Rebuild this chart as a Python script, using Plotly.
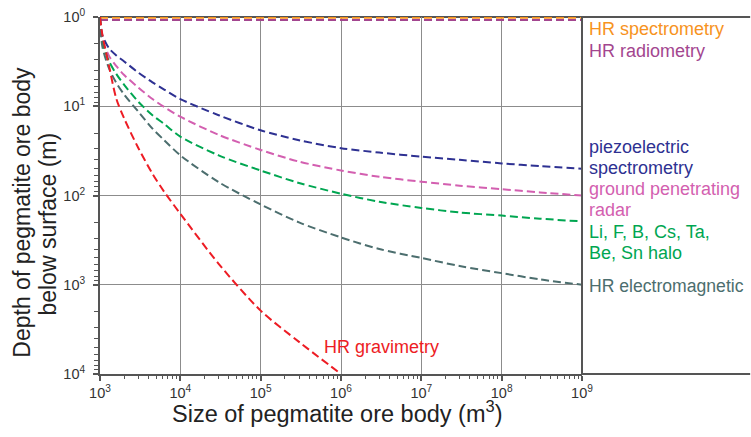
import plotly.graph_objects as go

# ---- data ----
sizes = [1000, 1070, 1300, 1600, 2000, 3000, 4500, 6300, 1e4, 3e4, 1e5, 3e5,
         1e6, 3e6, 1e7, 3e7, 1e8, 3e8, 1e9]
piezo = [1, 1.6, 2.25, 2.7, 3.15, 4.2, 5.4, 6.5, 8.3, 12.6, 18.6, 24,
         29.5, 33, 36.7, 39.8, 43.7, 46.8, 50]
gpr = [1, 1.78, 2.75, 3.55, 4.47, 6.17, 8.3, 10.2, 13.1, 20.9, 30.9, 41.7,
       52.5, 61.7, 70, 77.6, 85.1, 92.3, 100]
halo = [1, 1.9, 3.16, 4.37, 5.75, 8.9, 12.6, 15.8, 21.9, 35.5, 52.5, 72.4,
        95.5, 117.5, 138, 155, 168, 182, 195]
em = [1, 2.14, 3.8, 5.5, 7.4, 11.5, 17.8, 24, 35.5, 70.8, 126, 200,
      295, 398, 501, 617, 741, 871, 1000]

grav_sizes = [1000, 1070, 1300, 1600, 2000, 3000, 4500, 6300, 1e4, 3e4, 1e5, 3e5, 1e6]
grav = [1, 1.58, 3.6, 8.3, 13.7, 29.4, 57, 91, 160, 583, 1950, 4365, 10000]

flat_sizes = [1e3, 1e9]
spectrometry = [1.02, 1.02]
radiometry = [1.08, 1.08]

x_tickvals = [1e3, 1e4, 1e5, 1e6, 1e7, 1e8, 1e9]
x_ticktext = ["10<sup>3</sup>", "10<sup>4</sup>", "10<sup>5</sup>", "10<sup>6</sup>",
              "10<sup>7</sup>", "10<sup>8</sup>", "10<sup>9</sup>"]
y_tickvals = [1, 10, 100, 1000, 10000]
y_ticktext = ["10<sup>0</sup>", "10<sup>1</sup>", "10<sup>2</sup>", "10<sup>3</sup>", "10<sup>4</sup>"]

# label text, colour, y (log10 depth), font size
labels = [
    ("HR spectrometry", "#F7931E", 0.134, 18),
    ("HR radiometry", "#A3468F", 0.38, 18),
    ("piezoelectric", "#2E3192", 1.457, 18),
    ("spectrometry", "#2E3192", 1.69, 18),
    ("ground penetrating", "#D35FB0", 1.927, 18),
    ("radar", "#D35FB0", 2.163, 18),
    ("Li, F, B, Cs, Ta,", "#00A651", 2.41, 18),
    ("Be, Sn halo", "#00A651", 2.644, 18),
    ("HR electromagnetic", "#4C6E6E", 3.014, 17.6),
]

FONT = "Arial, Liberation Sans, sans-serif"
DASH = "8px,4px"

fig = go.Figure()
series = [
    (flat_sizes, spectrometry, "#F7931E"),
    (flat_sizes, radiometry, "#A3468F"),
    (sizes, piezo, "#2E3192"),
    (sizes, gpr, "#D35FB0"),
    (sizes, halo, "#00A651"),
    (sizes, em, "#4C6E6E"),
    (grav_sizes, grav, "#ED1C24"),
]
for xs, ys, c in series:
    fig.add_trace(go.Scatter(x=xs, y=ys, mode="lines",
                             line=dict(color=c, width=2, dash=DASH, shape="spline", smoothing=0.8),
                             showlegend=False, hoverinfo="skip", cliponaxis=False))

minor_x = [m * 10 ** e for e in range(3, 9) for m in range(2, 10)]
minor_y = [m * 10 ** e for e in range(0, 4) for m in range(2, 10)]

fig.update_xaxes(type="log", range=[3, 9], tickmode="array", tickvals=x_tickvals, ticktext=x_ticktext,
                 showgrid=True, gridcolor="#8c8c8c", gridwidth=1,
                 showline=True, linecolor="#555555", linewidth=2,
                 ticks="outside", ticklen=5, tickwidth=1.5, tickcolor="#555555",
                 tickfont=dict(family=FONT, size=14.5, color="#333333"),
                 minor=dict(tickmode="array", tickvals=minor_x, ticks="outside", ticklen=3,
                            tickwidth=1.2, tickcolor="#555555", showgrid=False),
                 zeroline=False, automargin=False)
fig.update_yaxes(type="log", range=[4, 0], tickmode="array", tickvals=y_tickvals, ticktext=y_ticktext,
                 showgrid=True, gridcolor="#8c8c8c", gridwidth=1,
                 showline=True, linecolor="#555555", linewidth=2,
                 ticks="outside", ticklen=5, tickwidth=1.5, tickcolor="#555555",
                 tickfont=dict(family=FONT, size=14.5, color="#333333"), ticklabelstandoff=5,
                 minor=dict(tickmode="array", tickvals=minor_y, ticks="outside", ticklen=4,
                            tickwidth=1.2, tickcolor="#555555", showgrid=False),
                 zeroline=False, automargin=False)

# axis titles
fig.add_annotation(x=(336.5 - 99.5) / 483.0, xref="paper", y=(374 - 412) / 357.0, yref="paper",
                   text="Size of pegmatite ore body (m<sup>3</sup>)", showarrow=False,
                   xanchor="center", yanchor="middle",
                   font=dict(family=FONT, size=23.5, color="#222222"))
fig.add_annotation(x=(21 - 99.5) / 483.0, xref="paper", y=(374 - 212) / 357.0, yref="paper",
                   text="Depth of pegmatite ore body", showarrow=False, textangle=-90,
                   xanchor="center", yanchor="middle",
                   font=dict(family=FONT, size=23, color="#222222"))
fig.add_annotation(x=(47 - 99.5) / 483.0, xref="paper", y=(374 - 224) / 357.0, yref="paper",
                   text="below surface (m)", showarrow=False, textangle=-90,
                   xanchor="center", yanchor="middle",
                   font=dict(family=FONT, size=23, color="#222222"))

xr = (751 - 99.5) / 483.0
fig.add_shape(type="line", xref="paper", yref="paper", x0=0, x1=xr, y0=1, y1=1,
              line=dict(color="#555555", width=2), layer="below")
fig.add_shape(type="line", xref="paper", yref="paper", x0=1, x1=xr, y0=0, y1=0,
              line=dict(color="#555555", width=2), layer="above")
fig.add_shape(type="line", xref="paper", yref="paper", x0=1, x1=1, y0=0, y1=1,
              line=dict(color="#555555", width=2), layer="above")

for text, color, ly, fs in labels:
    fig.add_annotation(x=(587.5 - 99.5) / 483.0, xref="paper", y=ly, yref="y", text=text,
                       showarrow=False, xanchor="left", yanchor="middle",
                       font=dict(family=FONT, size=fs, color=color))
fig.add_annotation(x=5.764, xref="x", y=3.70, yref="y", text="HR gravimetry", showarrow=False,
                   xanchor="left", yanchor="middle", font=dict(family=FONT, size=18, color="#ED1C24"))

fig.update_layout(width=751, height=437, margin=dict(l=99.5, r=168.5, t=17, b=63, autoexpand=False),
                  paper_bgcolor="white", plot_bgcolor="white")
fig.write_html("out.html", config={"displayModeBar": False},
               post_script="document.body.style.margin='0px';")
